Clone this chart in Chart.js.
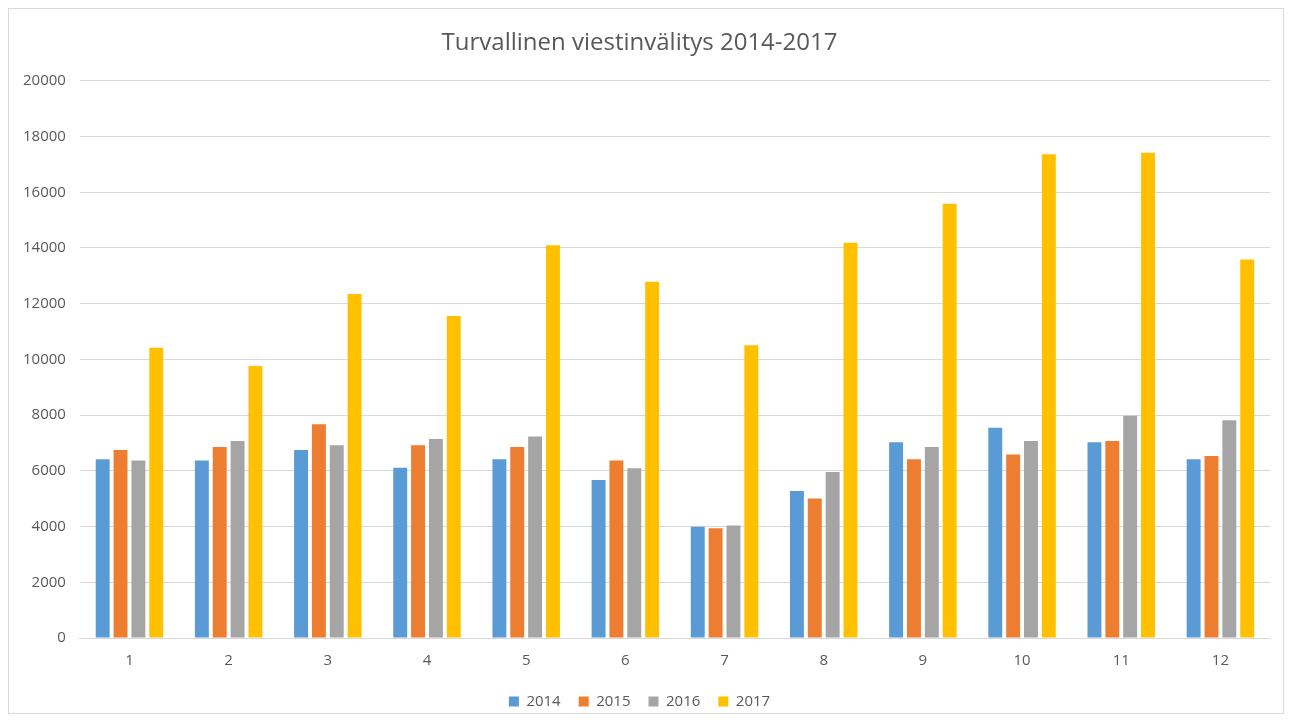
<!DOCTYPE html>
<html>
<head>
<meta charset="utf-8">
<script src="https://cdn.jsdelivr.net/npm/chart.js@4"></script>
<style>
  html, body { margin: 0; padding: 0; background: #fff; overflow: hidden; }
  #frame {
    position: absolute; left: 8px; top: 8px;
    width: 1274px; height: 704px;
    border: 1px solid #d9d9d9;
  }
  #chart { position: absolute; left: 0; top: 0; }
</style>
</head>
<body>
<div id="frame"></div>
<canvas id="chart"></canvas>
<script>
// months 1-12
const months = ['1', '2', '3', '4', '5', '6', '7', '8', '9', '10', '11', '12'];
const y2014 = [6420, 6370, 6750, 6110, 6420, 5670, 3990, 5280, 7030, 7550, 7030, 6420];
const y2015 = [6750, 6860, 7670, 6920, 6860, 6370, 3940, 5010, 6420, 6590, 7070, 6530];
const y2016 = [6370, 7070, 6920, 7140, 7230, 6090, 4040, 5960, 6860, 7070, 7980, 7820];
const y2017 = [10420, 9760, 12350, 11560, 14100, 12790, 10510, 14190, 15590, 17360, 17420, 13590];
const yTicks = [0, 2000, 4000, 6000, 8000, 10000, 12000, 14000, 16000, 18000, 20000];

const font = "'Open Sans', 'Liberation Sans', sans-serif";
const textColor = '#595959';

function series(label, data, color) {
  return {
    label: label,
    data: data,
    backgroundColor: color,
    borderWidth: 0,
    categoryPercentage: 0.72,
    barPercentage: 0.78
  };
}

const canvas = document.getElementById('chart');
canvas.width = 1291;
canvas.height = 722;

new Chart(canvas.getContext('2d'), {
  type: 'bar',
  data: {
    labels: months,
    datasets: [
      series('2014', y2014, '#5B9BD5'),
      series('2015', y2015, '#ED7D31'),
      series('2016', y2016, '#A5A5A5'),
      series('2017', y2017, '#FFC000')
    ]
  },
  options: {
    responsive: false,
    animation: false,
    layout: { padding: { left: 9, right: 21, top: 21, bottom: 3 } },
    plugins: {
      title: {
        display: true,
        text: 'Turvallinen viestinvälitys 2014-2017',
        color: textColor,
        font: { family: font, size: 24, weight: 'normal' },
        padding: { top: 8, bottom: 23 }
      },
      legend: {
        position: 'bottom',
        labels: {
          color: textColor,
          font: { family: font, size: 15 },
          boxWidth: 10,
          boxHeight: 10,
          padding: 18
        }
      },
      tooltip: { enabled: false }
    },
    scales: {
      x: {
        grid: { display: false },
        border: { color: '#d9d9d9' },
        ticks: { color: textColor, font: { family: font, size: 15 }, padding: 6 }
      },
      y: {
        min: 0,
        max: 20000,
        afterBuildTicks: function(axis) {
          axis.ticks = yTicks.map(v => ({ value: v }));
        },
        grid: { color: '#d9d9d9', drawTicks: false },
        border: { display: false },
        ticks: {
          color: textColor,
          font: { family: font, size: 15 },
          padding: 14,
          callback: v => String(v)
        }
      }
    }
  }
});
</script>
</body>
</html>
